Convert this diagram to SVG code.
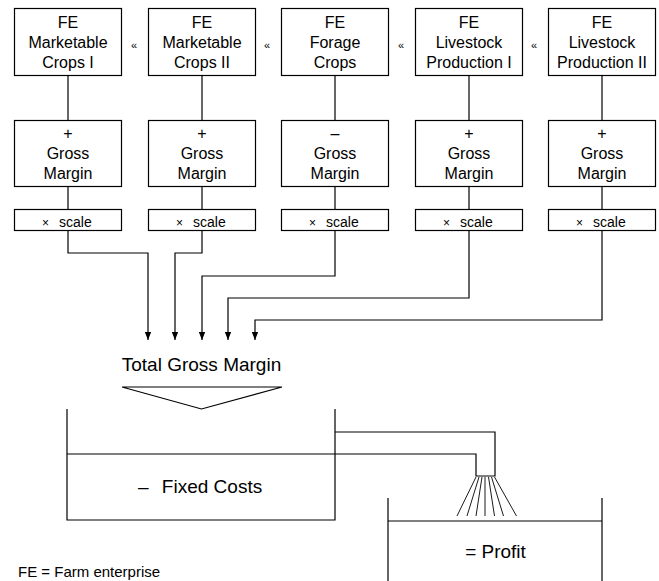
<svg xmlns="http://www.w3.org/2000/svg" width="659" height="581" viewBox="0 0 659 581">
<style>
  text { font-family: "Liberation Sans", Arial, sans-serif; fill: #000; }
  .box { fill: #fff; stroke: #000; stroke-width: 1.2; }
  .t16 { font-size: 16px; text-anchor: middle; }
  .t19 { font-size: 19px; }
  .sc { font-size: 14px; }
  .mul { font-size: 12px; }
  .sep { font-size: 11px; text-anchor: middle; }
  .ln { fill: none; stroke: #000; stroke-width: 1.2; }
  .spray { fill: none; stroke: #000; stroke-width: 0.9; }
</style>
<defs>
  <marker id="arrdown" markerUnits="userSpaceOnUse" markerWidth="8" markerHeight="10" refX="10" refY="4" orient="auto" viewBox="0 0 10 8">
    <path d="M0,0 L10,4 L0,8 z" fill="#000"/>
  </marker>
</defs>

<g id="connectors">
  <line class="ln" x1="68" y1="75.5" x2="68" y2="120.5"/>
  <line class="ln" x1="202" y1="75.5" x2="202" y2="120.5"/>
  <line class="ln" x1="335" y1="75.5" x2="335" y2="120.5"/>
  <line class="ln" x1="469" y1="75.5" x2="469" y2="120.5"/>
  <line class="ln" x1="602" y1="75.5" x2="602" y2="120.5"/>
  <line class="ln" x1="68" y1="186.5" x2="68" y2="209.5"/>
  <line class="ln" x1="202" y1="186.5" x2="202" y2="209.5"/>
  <line class="ln" x1="335" y1="186.5" x2="335" y2="209.5"/>
  <line class="ln" x1="469" y1="186.5" x2="469" y2="209.5"/>
  <line class="ln" x1="602" y1="186.5" x2="602" y2="209.5"/>
  <path class="ln" d="M68,230.5 V253 H148 V340" marker-end="url(#arrdown)"/>
  <path class="ln" d="M202,230.5 V253 H175 V340" marker-end="url(#arrdown)"/>
  <path class="ln" d="M335,230.5 V276 H202 V340" marker-end="url(#arrdown)"/>
  <path class="ln" d="M469,230.5 V298 H228 V340" marker-end="url(#arrdown)"/>
  <path class="ln" d="M602,230.5 V320 H255 V340" marker-end="url(#arrdown)"/>
</g>

<g id="fe1">
  <rect class="box" x="14.5" y="8.5" width="107" height="67"/>
  <text class="t16" x="68" y="28">FE</text>
  <text class="t16" x="68" y="48">Marketable</text>
  <text class="t16" x="68" y="68">Crops I</text>
</g>
<g id="fe2">
  <rect class="box" x="148.5" y="8.5" width="107" height="67"/>
  <text class="t16" x="202" y="28">FE</text>
  <text class="t16" x="202" y="48">Marketable</text>
  <text class="t16" x="202" y="68">Crops II</text>
</g>
<g id="fe3">
  <rect class="box" x="281.5" y="8.5" width="107" height="67"/>
  <text class="t16" x="335" y="28">FE</text>
  <text class="t16" x="335" y="48">Forage</text>
  <text class="t16" x="335" y="68">Crops</text>
</g>
<g id="fe4">
  <rect class="box" x="415.5" y="8.5" width="107" height="67"/>
  <text class="t16" x="469" y="28">FE</text>
  <text class="t16" x="469" y="48">Livestock</text>
  <text class="t16" x="469" y="68">Production I</text>
</g>
<g id="fe5">
  <rect class="box" x="548.5" y="8.5" width="107" height="67"/>
  <text class="t16" x="602" y="28">FE</text>
  <text class="t16" x="602" y="48">Livestock</text>
  <text class="t16" x="602" y="68">Production II</text>
</g>

<g id="separators">
  <text class="sep" x="134" y="49">«</text>
  <text class="sep" x="267" y="49">«</text>
  <text class="sep" x="401" y="49">«</text>
  <text class="sep" x="534" y="49">«</text>
</g>

<g id="gm1">
  <rect class="box" x="14.5" y="120.5" width="107" height="66"/>
  <text class="t16" x="68" y="139">+</text>
  <text class="t16" x="68" y="159">Gross</text>
  <text class="t16" x="68" y="179">Margin</text>
</g>
<g id="gm2">
  <rect class="box" x="148.5" y="120.5" width="107" height="66"/>
  <text class="t16" x="202" y="139">+</text>
  <text class="t16" x="202" y="159">Gross</text>
  <text class="t16" x="202" y="179">Margin</text>
</g>
<g id="gm3">
  <rect class="box" x="281.5" y="120.5" width="107" height="66"/>
  <text class="t16" x="335" y="139">–</text>
  <text class="t16" x="335" y="159">Gross</text>
  <text class="t16" x="335" y="179">Margin</text>
</g>
<g id="gm4">
  <rect class="box" x="415.5" y="120.5" width="107" height="66"/>
  <text class="t16" x="469" y="139">+</text>
  <text class="t16" x="469" y="159">Gross</text>
  <text class="t16" x="469" y="179">Margin</text>
</g>
<g id="gm5">
  <rect class="box" x="548.5" y="120.5" width="107" height="66"/>
  <text class="t16" x="602" y="139">+</text>
  <text class="t16" x="602" y="159">Gross</text>
  <text class="t16" x="602" y="179">Margin</text>
</g>

<g id="sc1">
  <rect class="box" x="14.5" y="209.5" width="107" height="21"/>
  <text x="42" y="227"><tspan class="mul">×</tspan><tspan class="sc" x="59">scale</tspan></text>
</g>
<g id="sc2">
  <rect class="box" x="148.5" y="209.5" width="107" height="21"/>
  <text x="176" y="227"><tspan class="mul">×</tspan><tspan class="sc" x="193">scale</tspan></text>
</g>
<g id="sc3">
  <rect class="box" x="281.5" y="209.5" width="107" height="21"/>
  <text x="309" y="227"><tspan class="mul">×</tspan><tspan class="sc" x="326">scale</tspan></text>
</g>
<g id="sc4">
  <rect class="box" x="415.5" y="209.5" width="107" height="21"/>
  <text x="443" y="227"><tspan class="mul">×</tspan><tspan class="sc" x="460">scale</tspan></text>
</g>
<g id="sc5">
  <rect class="box" x="548.5" y="209.5" width="107" height="21"/>
  <text x="576" y="227"><tspan class="mul">×</tspan><tspan class="sc" x="593">scale</tspan></text>
</g>

<g id="total">
  <text class="t19" x="201.5" y="371" text-anchor="middle">Total Gross Margin</text>
  <polygon class="ln" points="122,387 282,387 201.5,409"/>
</g>

<g id="fixed-costs">
  <path class="ln" d="M67,409 V520 H335 V409"/>
  <path class="ln" d="M67,454 H476 V476 H495 V432 H335"/>
  <text class="t19" x="138" y="493">–<tspan dx="8"> Fixed Costs</tspan></text>
</g>

<g id="spray">
  <line class="spray" x1="476" y1="477" x2="457" y2="516"/>
  <line class="spray" x1="479" y1="477" x2="467" y2="516"/>
  <line class="spray" x1="482" y1="477" x2="476" y2="516"/>
  <line class="spray" x1="485" y1="477" x2="485" y2="516"/>
  <line class="spray" x1="488.5" y1="477" x2="494.5" y2="516"/>
  <line class="spray" x1="491.5" y1="477" x2="503.5" y2="516"/>
  <line class="spray" x1="494.5" y1="477" x2="516.5" y2="516"/>
</g>

<g id="profit">
  <path class="ln" d="M388,498 V590 M602,498 V590 M388,521 H602"/>
  <text class="t19" x="495.5" y="558" text-anchor="middle">= Profit</text>
</g>

<g id="legend">
  <text x="18" y="577" style="font-size:15px">FE = Farm enterprise</text>
</g>
</svg>
